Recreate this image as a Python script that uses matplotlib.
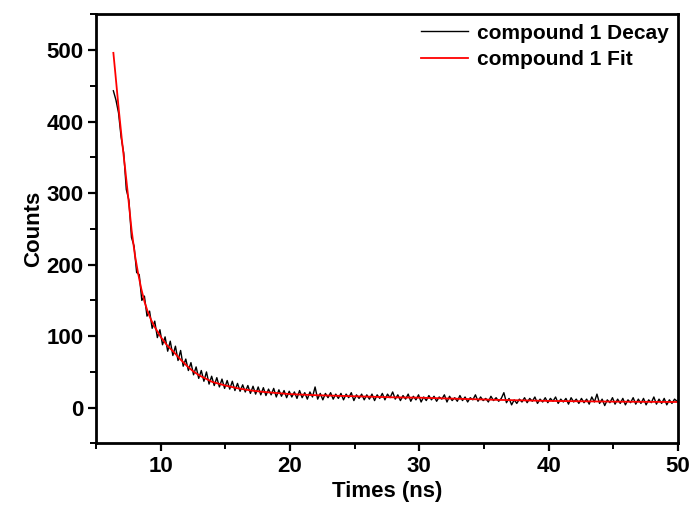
import numpy as np
import matplotlib.pyplot as plt
from matplotlib.ticker import MultipleLocator

plt.rcParams['font.family'] = ['Liberation Sans', 'DejaVu Sans']
plt.rcParams['font.weight'] = 'bold'

# fitted curve
fit_t = [6.34, 6.5, 6.75, 7.0, 7.25, 7.5, 7.75, 8.0, 8.25, 8.5, 8.75, 9.0, 9.25,
         9.5, 10.0, 10.5, 11.0, 11.5, 12.0, 12.5, 13.0, 14.0, 15.0, 16.0, 17.0,
         18.0, 20.0, 22.0, 25.0, 28.0, 30.0, 33.0, 36.0, 40.0, 45.0, 50.0]
fit_counts = [496, 466, 418, 374, 334, 292, 248, 214, 188, 166, 148, 134, 123,
              114, 99, 87, 78, 68, 59, 51, 45, 36, 31, 27, 24,
              22, 19, 17.5, 16, 14.5, 14, 12.5, 11, 9.5, 8.5, 8]

# measured decay, sampled every 0.2 ns from 6.34 ns
t0, dt = 6.34, 0.2
decay_counts = [
    443, 430, 412, 378, 356, 305, 290, 238, 226, 189, 186, 150, 156, 128, 135, 111,
    121, 98, 109, 88, 99, 79, 93, 73, 86, 66, 80, 58, 68, 52, 63, 46,
    57, 41, 52, 37, 50, 33, 44, 31, 42, 29, 40, 27, 38, 26, 37, 24,
    34, 23, 32, 22, 31, 20, 30, 19, 29, 18, 28, 17, 26, 18, 27, 15,
    25, 16, 24, 14, 23, 15, 22, 13, 24, 14, 21, 12, 22, 15, 29, 12,
    20, 11, 20, 14, 21, 12, 19, 13, 20, 11, 19, 14, 21, 10, 18, 13,
    19, 11, 18, 12, 19, 10, 18, 13, 20, 11, 19, 14, 22, 12, 18, 10,
    17, 12, 19, 9, 16, 11, 18, 8, 15, 10, 17, 11, 16, 9, 15, 12,
    18, 8, 16, 10, 14, 9, 17, 10, 15, 8, 14, 11, 18, 9, 15, 10,
    13, 8, 16, 10, 14, 9, 13, 21, 7, 13, 4, 11, 6, 12, 8, 14,
    7, 13, 9, 15, 6, 12, 8, 14, 7, 13, 9, 15, 6, 12, 8, 13,
    5, 14, 8, 12, 6, 13, 7, 12, 5, 15, 8, 19, 6, 12, 3, 11,
    7, 14, 5, 12, 6, 13, 4, 11, 7, 14, 5, 12, 6, 13, 4, 11,
    7, 15, 5, 12, 6, 13, 4, 11, 6, 12, 9,
]
decay_t = t0 + dt * np.arange(len(decay_counts))

fig = plt.figure(figsize=(6.96, 5.08), dpi=100)
ax = fig.add_axes([0.138, 0.127, 0.836, 0.845])

ax.plot(decay_t, decay_counts, color='black', lw=1.0, label='compound 1 Decay')
ax.plot(fit_t, fit_counts, color='red', lw=1.3, label='compound 1 Fit')

ax.set_xlim(5, 50)
ax.set_ylim(-50, 550)
ax.xaxis.set_major_locator(MultipleLocator(10))
ax.xaxis.set_minor_locator(MultipleLocator(5))
ax.yaxis.set_major_locator(MultipleLocator(100))
ax.yaxis.set_minor_locator(MultipleLocator(50))
ax.tick_params(which='major', direction='out', length=6, width=1.6, labelsize=16, pad=3)
ax.tick_params(which='minor', direction='out', length=4, width=1.4)
for s in ax.spines.values():
    s.set_linewidth(2)

ax.set_xlabel('Times (ns)', fontsize=16, fontweight='bold', va='center')
ax.xaxis.set_label_coords(0.5, -0.113)
ax.set_ylabel('Counts', fontsize=16, fontweight='bold', labelpad=2)

ax.legend(loc='upper right', frameon=False, fontsize=15, handlelength=2.3,
          borderaxespad=0.05, labelspacing=0.35, handletextpad=0.4)

plt.savefig('out.png', dpi=100)
